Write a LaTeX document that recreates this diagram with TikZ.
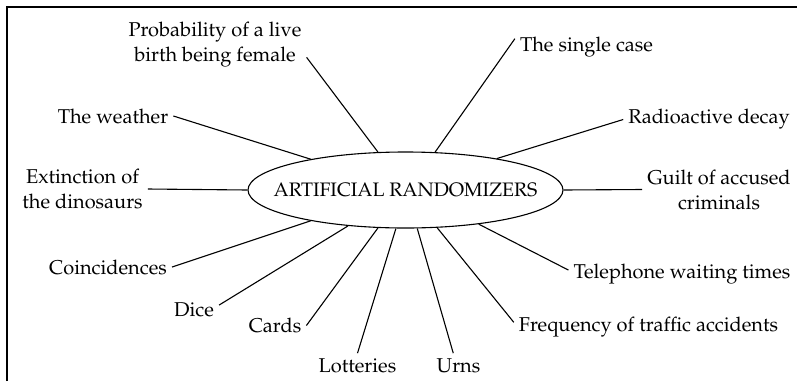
\documentclass[tikz,border=0pt]{standalone}
\usepackage[T1]{fontenc}
\usepackage{mathpazo}
\usetikzlibrary{shapes.geometric}

\begin{document}
\begin{tikzpicture}[x=1pt, y=-1pt,
    hub/.style={draw, ellipse, line width=1.1pt, minimum width=315pt,
                minimum height=76pt, inner xsep=-40pt, inner ysep=0pt,
                font=\fontsize{19.5}{24}\selectfont},
    lbl/.style={font=\fontsize{20}{25}\selectfont, align=center,
                inner sep=5pt},
    spoke/.style={line width=1.1pt}
]
\useasboundingbox (0,0) rectangle (797,381);

% ---- frame ----
\draw[line width=1.6pt] (7,381) -- (7,7) -- (797,7);

% ---- hub ----
\node[hub] (rand) at (405.5,190) {ARTIFICIAL RANDOMIZERS};

% ---- labels, left and bottom ----
\node[lbl] (prob)    at (215,44.5)  {Probability of a live\\birth being female};
\node[lbl] (weather) at (113,116)   {The weather};
\node[lbl] (ext)     at (82.5,189)  {Extinction of\\the dinosaurs};
\node[lbl] (coinc)   at (108,267)   {Coincidences};
\node[lbl] (dice)    at (194,309.5) {Dice};
\node[lbl] (cards)   at (275,325.5) {Cards};
\node[lbl] (lott)    at (357.5,365.5) {Lotteries};
\node[lbl] (urns)    at (458.5,365.5) {Urns};

% ---- labels, right ----
\node[lbl] (single)  at (586.5,47.5) {The single case};
\node[lbl] (radio)   at (709,119.5) {Radioactive decay};
\node[lbl] (guilt)   at (719,189.5) {Guilt of accused\\criminals};
\node[lbl] (tel)     at (682,274)   {Telephone waiting times};
\node[lbl] (freq)    at (648.5,327) {Frequency of traffic accidents};

% ---- spokes ----
\draw[spoke] (prob.352)     -- (rand.126);
\draw[spoke] (weather.east) -- (rand.162);
\draw[spoke] (ext.east)     -- (rand.180);
\draw[spoke] (coinc.east)   -- (rand.198);
\draw[spoke] (dice.10)      -- (rand.212);
\draw[spoke] (cards.east)   -- (rand.234);
\draw[spoke] (lott.north)   -- (rand.256);
\draw[spoke] (urns.113)     -- (rand.287);
\draw[spoke] (freq.178)     -- (rand.310);
\draw[spoke] (tel.178)      -- (rand.335);
\draw[spoke] (guilt.west)   -- (rand.0);
\draw[spoke] (radio.west)   -- (rand.19);
\draw[spoke] (single.173)   -- (rand.52);

\end{tikzpicture}
\end{document}
